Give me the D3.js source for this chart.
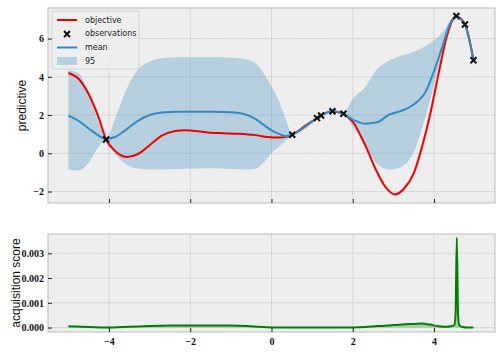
<!DOCTYPE html>
<html>
<head>
<meta charset="utf-8">
<script src="https://cdn.jsdelivr.net/npm/d3@7"></script>
<style>
  body { margin: 0; background: #fff; }
  svg text { font-family: "Liberation Serif", serif; }
</style>
</head>
<body>
<div id="chart"></div>
<script>

/*
 * Bayesian optimisation snapshot: GP posterior + acquisition score.
 */

// Objective curve.
var objX = [-5.0, -4.75, -4.5, -4.25, -4.07, -3.85, -3.56, -3.3, -3.0, -2.7, -2.4, -2.1,
  -1.8, -1.5, -1.2, -0.8, -0.4, -0.1, 0.2, 0.35, 0.51, 0.8, 1.1, 1.2, 1.5, 1.77, 2.0,
  2.3, 2.6, 2.8, 3.04, 3.3, 3.5, 3.7, 3.9, 4.1, 4.3, 4.45, 4.55, 4.65, 4.76, 4.87, 4.97];
var objY = [4.2, 3.9, 3.1, 1.85, 0.72, 0.12, -0.19, -0.05, 0.42, 0.92, 1.15, 1.2,
  1.15, 1.08, 1.05, 1.02, 0.95, 0.85, 0.82, 0.86, 0.97, 1.38, 1.82, 1.96, 2.2, 2.05, 1.65,
  0.45, -1.0, -1.75, -2.15, -1.75, -1.05, 0.3, 2.0, 4.05, 6.0, 6.95, 7.18, 7.05, 6.74, 5.95, 4.87];

// Observations.
var obsX = [-4.07, 0.51, 1.12, 1.22, 1.5, 1.77, 4.55, 4.76, 4.97];
var obsY = [0.72, 0.97, 1.84, 1.98, 2.2, 2.07, 7.18, 6.74, 4.87];

// Posterior mean and 95 band.
var gridX = [-5, -4.75, -4.5, -4.25, -4.07, -3.85, -3.6, -3.3, -3.0, -2.7, -2.3, -1.5,
  -1.0, -0.7, -0.4, -0.2, 0.0, 0.2, 0.35, 0.51, 0.8, 1.1, 1.2, 1.5, 1.77, 2.0, 2.3, 2.6,
  2.9, 3.2, 3.5, 3.8, 4.0, 4.2, 4.4, 4.55, 4.65, 4.76, 4.87, 4.97];
var meanY = [1.97, 1.7, 1.3, 0.92, 0.75, 0.85, 1.2, 1.68, 2.0, 2.13, 2.17, 2.17,
  2.15, 2.07, 1.8, 1.5, 1.2, 1.0, 0.9, 0.97, 1.35, 1.82, 1.96, 2.2, 2.07, 1.76, 1.55, 1.62,
  2.03, 2.22, 2.55, 3.25, 4.3, 5.55, 6.8, 7.17, 7.02, 6.74, 5.9, 4.87];
var upperY = [4.35, 4.2, 3.1, 1.65, 0.78, 1.8, 3.2, 4.35, 4.8, 4.97, 5.02, 5.02,
  5.0, 4.95, 4.72, 4.2, 3.5, 2.65, 1.8, 1.02, 1.5, 1.88, 2.02, 2.25, 2.12, 2.85, 3.45, 4.4,
  4.85, 5.1, 5.3, 5.62, 5.9, 6.3, 6.95, 7.22, 7.08, 6.8, 5.95, 4.9];
var lowerY = [-0.85, -0.9, -0.5, 0.35, 0.68, 0.0, -0.55, -0.8, -0.85, -0.85, -0.82, -0.78,
  -0.82, -0.85, -0.82, -0.5, 0.02, 0.37, 0.65, 0.92, 1.22, 1.76, 1.9, 2.15, 2.02, 1.4, 0.4, -0.55,
  -0.85, -0.7, 0.05, 2.0, 3.6, 5.3, 6.6, 7.12, 6.96, 6.68, 5.85, 4.84];

// Acquisition score.
var acqX = [-5.0, -4.8, -4.5, -4.2, -4.07, -3.9, -3.5, -3.0, -2.5, -2.0, -1.5, -1.0, -0.6,
  -0.3, 0.0, 0.3, 0.51, 1.0, 1.5, 2.0, 2.3, 2.6, 3.0, 3.4, 3.7, 3.9, 4.1, 4.3, 4.42, 4.5,
  4.53, 4.56, 4.59, 4.62, 4.7, 4.8, 4.97];
var acqY = [0.00005, 0.00004, 0.00002, 0.000005, 0, 0.000005, 0.00003, 0.00006, 0.00008,
  0.000085, 0.000085, 0.00008, 0.00006, 0.00003, 0.000005, 0, 0, 0, 0, 0.000005, 0.00002,
  0.00006, 0.0001, 0.00014, 0.00016, 0.00012, 0.00005, 0.00003, 0.00005, 0.0001,
  0.0006, 0.00363, 0.0006, 0.0001, 0.00002, 0, 0];

// Tick values.
var xTicks = [-4, -2, 0, 2, 4];
var predTicks = [-2, 0, 2, 4, 6];
var acqTicks = [0, 0.001, 0.002, 0.003];

// Legend labels.
var legendLabels = ['objective', 'observations', 'mean', '95'];

// Colours.
var RED = '#ee0000', BLUE = '#348abd', BAND = '#348abd', GREEN = '#008000';
var FACE = '#eeeeee', EDGE = '#bcbcbc', GRID = '#b2b2b2';

/*
 * Set up the SVG and scales.
 */
var width = 501, height = 352;
var left = 48, right = 495;
var top1 = 8, bottom1 = 203;
var top2 = 234, bottom2 = 332;

var svg = d3.select('#chart').append('svg')
  .attr('width', width)
  .attr('height', height);

var x = d3.scaleLinear().domain([-5.5, 5.5]).range([left, right]);
var yPred = d3.scaleLinear().domain([-2.6, 7.6]).range([bottom1, top1]);
var yAcq = d3.scaleLinear().domain([-0.00018, 0.00378]).range([bottom2, top2]);

/*
 * Draw a panel background and grid.
 *
 * @param {Object} y: The y scale.
 * @param {Array} yTicks: The y tick values.
 *
 * @return void.
 */
function panel(y, yTicks) {

  var y0 = y.range()[0], y1 = y.range()[1];
  var g = svg.append('g');

  // Background.
  g.append('rect')
    .attr('x', left).attr('y', y1)
    .attr('width', right - left).attr('height', y0 - y1)
    .attr('fill', FACE);

  // Grid.
  g.selectAll('.gx').data(xTicks).enter().append('line')
    .attr('x1', function(d) { return x(d); })
    .attr('x2', function(d) { return x(d); })
    .attr('y1', y0).attr('y2', y1)
    .attr('stroke', GRID).attr('stroke-width', 0.5)
    .attr('stroke-dasharray', '1.85,0.8');
  g.selectAll('.gy').data(yTicks).enter().append('line')
    .attr('x1', left).attr('x2', right)
    .attr('y1', function(d) { return y(d); })
    .attr('y2', function(d) { return y(d); })
    .attr('stroke', GRID).attr('stroke-width', 0.5)
    .attr('stroke-dasharray', '1.85,0.8');

}

/*
 * Draw axes and border on top of the marks.
 *
 * @param {Object} y: The y scale.
 * @param {Array} yTicks: The y tick values.
 * @param {Function} yFormat: Tick formatter.
 * @param {Boolean} xLabels: Whether to label the x ticks.
 *
 * @return void.
 */
function axes(y, yTicks, yFormat, xLabels) {

  var y0 = y.range()[0], y1 = y.range()[1];

  // Border.
  svg.append('rect')
    .attr('x', left).attr('y', y1)
    .attr('width', right - left).attr('height', y0 - y1)
    .attr('fill', 'none').attr('stroke', EDGE).attr('stroke-width', 1);

  // Y axis.
  var ya = svg.append('g')
    .attr('transform', 'translate(' + left + ',0)')
    .call(d3.axisLeft(y).tickValues(yTicks).tickFormat(yFormat)
      .tickSize(-4).tickPadding(4));

  // X axis.
  var xa = svg.append('g')
    .attr('transform', 'translate(0,' + y0 + ')')
    .call(d3.axisBottom(x).tickValues(xTicks)
      .tickFormat(xLabels ? d3.format('') : '')
      .tickSize(-4).tickPadding(6));

  // Style.
  [ya, xa].forEach(function(a) {
    a.select('.domain').remove();
    a.selectAll('.tick line').attr('stroke', '#222');
    a.selectAll('.tick text')
      .attr('fill', '#111')
      .style('font-family', '"Liberation Serif", serif')
      .style('font-weight', 'bold')
      .style('font-size', '10px');
  });

}

/*
 * Top panel.
 */
panel(yPred, predTicks);

// Band.
var band = d3.area()
  .x(function(d) { return x(gridX[d]); })
  .y0(function(d) { return yPred(lowerY[d]); })
  .y1(function(d) { return yPred(upperY[d]); })
  .curve(d3.curveMonotoneX);
svg.append('path')
  .attr('d', band(d3.range(gridX.length)))
  .attr('fill', BAND).attr('fill-opacity', 0.3);

// Objective.
var objLine = d3.line()
  .x(function(d) { return x(objX[d]); })
  .y(function(d) { return yPred(objY[d]); })
  .curve(d3.curveMonotoneX);
svg.append('path')
  .attr('d', objLine(d3.range(objX.length)))
  .attr('fill', 'none').attr('stroke', RED).attr('stroke-width', 2);

// Mean.
var meanLine = d3.line()
  .x(function(d) { return x(gridX[d]); })
  .y(function(d) { return yPred(meanY[d]); })
  .curve(d3.curveMonotoneX);
svg.append('path')
  .attr('d', meanLine(d3.range(gridX.length)))
  .attr('fill', 'none').attr('stroke', BLUE).attr('stroke-width', 2);

/*
 * Cross marker path.
 */
function cross(cx, cy, r) {
  return 'M' + (cx - r) + ',' + (cy - r) + 'L' + (cx + r) + ',' + (cy + r) +
    'M' + (cx - r) + ',' + (cy + r) + 'L' + (cx + r) + ',' + (cy - r);
}

// Observations.
svg.selectAll('.obs').data(d3.range(obsX.length)).enter().append('path')
  .attr('d', function(d) { return cross(x(obsX[d]), yPred(obsY[d]), 3); })
  .attr('stroke', '#111').attr('stroke-width', 2).attr('fill', 'none');

axes(yPred, predTicks, d3.format(''), false);

// Legend.
var lg = svg.append('g');
lg.append('rect')
  .attr('x', 52).attr('y', 11).attr('width', 87).attr('height', 58)
  .attr('rx', 2)
  .attr('fill', FACE).attr('fill-opacity', 0.8)
  .attr('stroke', '#cccccc').attr('stroke-width', 0.8);
lg.append('line').attr('x1', 57).attr('x2', 77).attr('y1', 20).attr('y2', 20)
  .attr('stroke', RED).attr('stroke-width', 2);
lg.append('path').attr('d', cross(67, 34, 3))
  .attr('stroke', '#111').attr('stroke-width', 2);
lg.append('line').attr('x1', 57).attr('x2', 77).attr('y1', 47.5).attr('y2', 47.5)
  .attr('stroke', BLUE).attr('stroke-width', 2);
lg.append('rect').attr('x', 57).attr('y', 57).attr('width', 20).attr('height', 8)
  .attr('fill', BAND).attr('fill-opacity', 0.3);
lg.selectAll('.lt').data(legendLabels).enter().append('text')
  .attr('x', 85)
  .attr('y', function(d, i) { return 20 + i * 13.7; })
  .attr('dy', '0.32em')
  .style('font-family', '"DejaVu Sans", sans-serif')
  .style('font-size', '8px')
  .attr('fill', '#222')
  .text(function(d) { return d; });

/*
 * Bottom panel.
 */
panel(yAcq, acqTicks);

var acqArea = d3.area()
  .x(function(d) { return x(acqX[d]); })
  .y0(yAcq(0))
  .y1(function(d) { return yAcq(acqY[d]); })
  .curve(d3.curveMonotoneX);
svg.append('path')
  .attr('d', acqArea(d3.range(acqX.length)))
  .attr('fill', GREEN).attr('fill-opacity', 0.3);

var acqLine = d3.line()
  .x(function(d) { return x(acqX[d]); })
  .y(function(d) { return yAcq(acqY[d]); })
  .curve(d3.curveMonotoneX);
svg.append('path')
  .attr('d', acqLine(d3.range(acqX.length)))
  .attr('fill', 'none').attr('stroke', GREEN).attr('stroke-width', 2);

axes(yAcq, acqTicks, d3.format('.3f'), true);

/*
 * Rotated y label.
 *
 * @param {String} text: The label.
 * @param {Number} bx: Baseline x position.
 * @param {Number} cy: Vertical centre.
 *
 * @return void.
 */
function yLabel(text, bx, cy) {
  svg.append('text')
    .attr('transform', 'translate(' + bx + ',' + cy + ') rotate(-90)')
    .attr('text-anchor', 'middle')
    .style('font-family', '"Liberation Sans", sans-serif')
    .style('font-size', '12px')
    .attr('fill', '#111')
    .text(text);
}
yLabel('predictive', 26, (top1 + bottom1) / 2);
yLabel('acquisition score', 20, (top2 + bottom2) / 2);

</script>
</body>
</html>
